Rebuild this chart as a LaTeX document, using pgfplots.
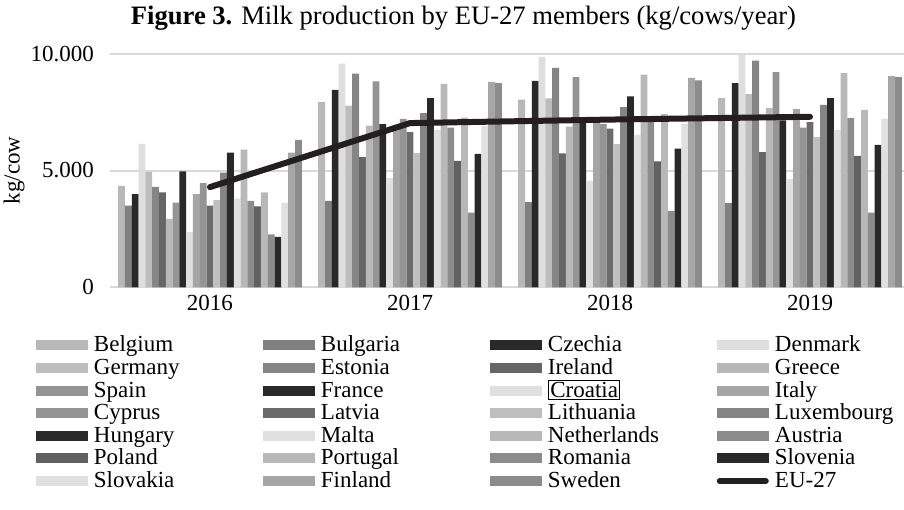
\documentclass[border=0pt]{standalone}
\usepackage{pgfplots}
\pgfplotsset{compat=1.18}
\usepackage{pgfplotstable}
\usepackage{fontspec}
\setmainfont{Liberation Serif}
\newcommand\fs{\fontsize{11.5}{12}\selectfont}
\newcommand\lb[1]{\makebox[84.5pt][l]{\hspace{1.6pt}#1}}

\definecolor{cBE}{gray}{0.72}
\definecolor{cBG}{gray}{0.50}
\definecolor{cCZ}{gray}{0.16}
\definecolor{cDK}{gray}{0.87}
\definecolor{cDE}{gray}{0.74}
\definecolor{cEE}{gray}{0.52}
\definecolor{cIE}{gray}{0.40}
\definecolor{cEL}{gray}{0.72}
\definecolor{cES}{gray}{0.58}
\definecolor{cFR}{gray}{0.16}
\definecolor{cHR}{gray}{0.88}
\definecolor{cIT}{gray}{0.65}
\definecolor{cCY}{gray}{0.58}
\definecolor{cLV}{gray}{0.42}
\definecolor{cLT}{gray}{0.75}
\definecolor{cLU}{gray}{0.52}
\definecolor{cHU}{gray}{0.16}
\definecolor{cMT}{gray}{0.88}
\definecolor{cNL}{gray}{0.72}
\definecolor{cAT}{gray}{0.55}
\definecolor{cPL}{gray}{0.38}
\definecolor{cPT}{gray}{0.72}
\definecolor{cRO}{gray}{0.55}
\definecolor{cSI}{gray}{0.16}
\definecolor{cSK}{gray}{0.88}
\definecolor{cFI}{gray}{0.65}
\definecolor{cSE}{gray}{0.55}
\definecolor{lineblk}{HTML}{231F20}

\pgfplotstableread{
x BE BG CZ DK DE EE IE EL ES FR HR IT CY LV LT LU HU MT NL AT PL PT RO SI SK FI SE
0 4340 3500 3990 6140 4940 4300 4060 2930 3630 4960 2360 3990 4460 3500 3730 4910 5770 3800 5890 3700 3460 4060 2270 2160 3610 5770 6310
1 7930 3700 8450 9570 7780 9150 5570 6920 8810 6990 4670 6930 7210 6640 5740 7460 8100 6740 8710 6840 5410 7260 3200 5710 6900 8790 8740
2 8030 3650 8840 9860 8090 9390 5730 6880 9010 7050 4560 7280 7000 6790 6130 7710 8170 6530 9100 7070 5390 7410 3270 5940 7000 8960 8860
3 8100 3600 8740 9960 8270 9700 5790 7670 9210 7150 4630 7630 6840 7070 6430 7810 8100 6740 9170 7240 5630 7590 3200 6100 7210 9040 9000
}\milk

\pgfplotstableread{
x eu
0 4290
1 7030
2 7180
3 7300
}\eu

\pgfplotsset{
  mybar/.style={fill=#1, draw=none,
    legend image code/.code={\fill[fill=#1] (0pt,-2pt) rectangle (26pt,3pt);}},
  base/.style={
    scale only axis, width=397pt, height=116.8pt,
    at={(0pt,0pt)}, anchor=south west,
    xmin=-0.5, xmax=3.47, ymin=0, ymax=10000,
  }
}

\begin{document}
\fs
\begin{tikzpicture}
\begin{axis}[base,
  ybar=0pt, bar width=3.4pt,
  xtick={0,1,2,3}, xticklabels={2016,2017,2018,2019},
  ytick={0,5000,10000}, yticklabels={0,5.000,10.000},
  scaled y ticks=false,
  /pgf/number format/assume math mode=true,
  tick label style={font=\fs},
  yticklabel style={xshift=-4pt},
  major tick length=0pt,
  axis line style={draw=none},
  ymajorgrids, grid style={gray!30, line width=1pt},
  ylabel={kg/cow}, ylabel style={font=\fs, at={(axis description cs:-0.1209,0.5)}, anchor=center},
  legend columns=4,
  legend cell align=left,
  legend style={draw=none, fill=none, font=\fs, inner sep=0pt, outer sep=0pt,
    at={(axis description cs:-0.0935,-0.205)}, anchor=north west,
    nodes={inner xsep=1.5pt, inner ysep=0.4pt, text height=8pt, text depth=2.5pt},
    column sep=0pt, row sep=0pt},
]
\addplot[mybar=cBE] table[x=x,y=BE]{\milk}; \addlegendentry{\lb{Belgium}}
\addplot[mybar=cBG] table[x=x,y=BG]{\milk}; \addlegendentry{\lb{Bulgaria}}
\addplot[mybar=cCZ] table[x=x,y=CZ]{\milk}; \addlegendentry{\lb{Czechia}}
\addplot[mybar=cDK] table[x=x,y=DK]{\milk}; \addlegendentry{\lb{Denmark}}
\addplot[mybar=cDE] table[x=x,y=DE]{\milk}; \addlegendentry{\lb{Germany}}
\addplot[mybar=cEE] table[x=x,y=EE]{\milk}; \addlegendentry{\lb{Estonia}}
\addplot[mybar=cIE] table[x=x,y=IE]{\milk}; \addlegendentry{\lb{Ireland}}
\addplot[mybar=cEL] table[x=x,y=EL]{\milk}; \addlegendentry{\lb{Greece}}
\addplot[mybar=cES] table[x=x,y=ES]{\milk}; \addlegendentry{\lb{Spain}}
\addplot[mybar=cFR] table[x=x,y=FR]{\milk}; \addlegendentry{\lb{France}}
\addplot[mybar=cHR] table[x=x,y=HR]{\milk}; \addlegendentry{\lb{\setlength{\fboxsep}{0.6pt}\setlength{\fboxrule}{0.6pt}\fbox{Croatia}}}
\addplot[mybar=cIT] table[x=x,y=IT]{\milk}; \addlegendentry{\lb{Italy}}
\addplot[mybar=cCY] table[x=x,y=CY]{\milk}; \addlegendentry{\lb{Cyprus}}
\addplot[mybar=cLV] table[x=x,y=LV]{\milk}; \addlegendentry{\lb{Latvia}}
\addplot[mybar=cLT] table[x=x,y=LT]{\milk}; \addlegendentry{\lb{Lithuania}}
\addplot[mybar=cLU] table[x=x,y=LU]{\milk}; \addlegendentry{\lb{Luxembourg}}
\addplot[mybar=cHU] table[x=x,y=HU]{\milk}; \addlegendentry{\lb{Hungary}}
\addplot[mybar=cMT] table[x=x,y=MT]{\milk}; \addlegendentry{\lb{Malta}}
\addplot[mybar=cNL] table[x=x,y=NL]{\milk}; \addlegendentry{\lb{Netherlands}}
\addplot[mybar=cAT] table[x=x,y=AT]{\milk}; \addlegendentry{\lb{Austria}}
\addplot[mybar=cPL] table[x=x,y=PL]{\milk}; \addlegendentry{\lb{Poland}}
\addplot[mybar=cPT] table[x=x,y=PT]{\milk}; \addlegendentry{\lb{Portugal}}
\addplot[mybar=cRO] table[x=x,y=RO]{\milk}; \addlegendentry{\lb{Romania}}
\addplot[mybar=cSI] table[x=x,y=SI]{\milk}; \addlegendentry{\lb{Slovenia}}
\addplot[mybar=cSK] table[x=x,y=SK]{\milk}; \addlegendentry{\lb{Slovakia}}
\addplot[mybar=cFI] table[x=x,y=FI]{\milk}; \addlegendentry{\lb{Finland}}
\addplot[mybar=cSE] table[x=x,y=SE]{\milk}; \addlegendentry{\lb{Sweden}}
\addlegendimage{legend image code/.code={\draw[lineblk, line width=3pt, line cap=round] (1.5pt,0.5pt) -- (24.5pt,0.5pt);}}
\addlegendentry{\lb{EU-27}}
\end{axis}
\begin{axis}[base, hide axis]
\addplot[lineblk, line width=3pt, line cap=round, line join=round, mark=none] table[x=x,y=eu]{\eu};
\end{axis}
\node[anchor=base, font=\fontsize{13.3}{14}\selectfont] at (176.75pt,131.2pt) {\textbf{Figure 3.} Milk production by EU-27 members (kg/cows/year)};
\pgfresetboundingbox
\useasboundingbox (-55pt,-110.85pt) rectangle (397pt,143.65pt);
\end{tikzpicture}
\end{document}
